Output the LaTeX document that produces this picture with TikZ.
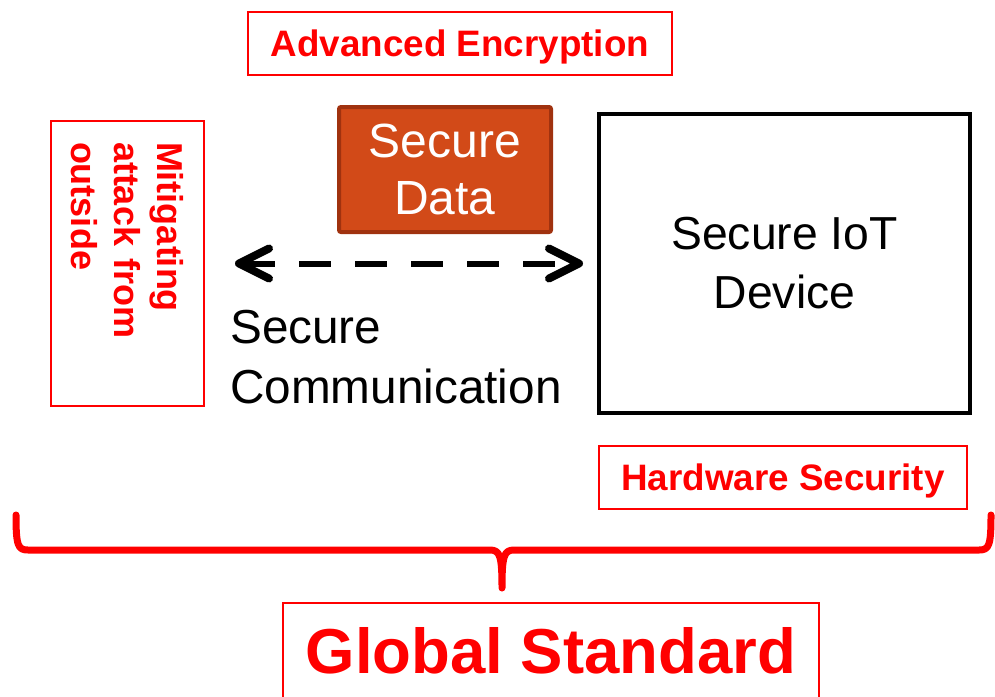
\documentclass[tikz,border=0pt]{standalone}
\usepackage{fontspec}
\setmainfont{Liberation Sans}
\usetikzlibrary{arrows.meta}
\definecolor{securefill}{HTML}{D24A18}
\definecolor{secureedge}{HTML}{A0320F}
\tikzset{
    red-box/.style = {draw=red, line width=2pt, rectangle, inner sep=0pt, text=red, font=\bfseries\fontsize{36}{43}\selectfont},
    red-box-title/.style = {red-box, font=\bfseries\fontsize{36.8}{43}\selectfont, text height=26pt, text depth=0pt},
    big-box-title/.style = {red-box-title, font=\bfseries\fontsize{63.5}{75}\selectfont, text height=45pt},
    black-box/.style = {draw=black, line width=4pt, rectangle, inner sep=0pt, align=center, font=\fontsize{46.3}{59}\selectfont},
    data-box/.style = {draw=secureedge, fill=securefill, line width=4pt, rounded corners=2pt, inner sep=0pt, text=white, align=center, font=\fontsize{48}{57}\selectfont},
    plain-text/.style = {inner sep=0pt, align=left, font=\fontsize{47.7}{60}\selectfont},
    dashed-link/.style = {line width=6pt, dash pattern=on 32pt off 24pt, {Straight Barb[round,line width=8pt,length=30pt,width=30pt]}-{Straight Barb[round,line width=8pt,length=30pt,width=30pt]}},
    brace-line/.style = {draw=red, line width=7pt, line cap=round, line join=round},
}
\begin{document}
\begin{tikzpicture}[x=1pt,y=-1pt]
\useasboundingbox (0,0) rectangle (995,696);
\clip (0,0) rectangle (995,696);
\node [red-box-title, minimum width=424pt, minimum height=63pt] (encryption) at (460,43.5) {Advanced Encryption};
\node [data-box, minimum width=212pt, minimum height=125pt] (data) at (445,169.5) {Secure\\Data};
\node [black-box, minimum width=371pt, minimum height=299pt] (device) at (784.5,263.5) {Secure IoT\\Device};
\node [red-box, rotate=-90, align=left, text width=243pt, inner xsep=21pt, minimum height=153pt] (mitigating) at (127.5,263.5) {Mitigating\\attack from\\outside};
\draw [dashed-link, shorten <=30pt, shorten >=14pt] (mitigating.north) -- (device.west);
\node [plain-text, anchor=west] (communication) at (230,357.5) {Secure\\Communication};
\node [red-box-title, minimum width=368pt, minimum height=63pt] (hardware) at (783,477.5) {Hardware Security};
\draw [brace-line] (16,515) .. controls (16,546) and (18,550) .. (28,550) -- (490,550) .. controls (500,550) and (502,556) .. (502,588) .. controls (502,556) and (504,550) .. (514,550) -- (979,550) .. controls (989,550) and (991,546) .. (991,515);
\node [big-box-title, minimum width=536pt, minimum height=96pt] (standard) at (551,651) {Global Standard};
\end{tikzpicture}
\end{document}
